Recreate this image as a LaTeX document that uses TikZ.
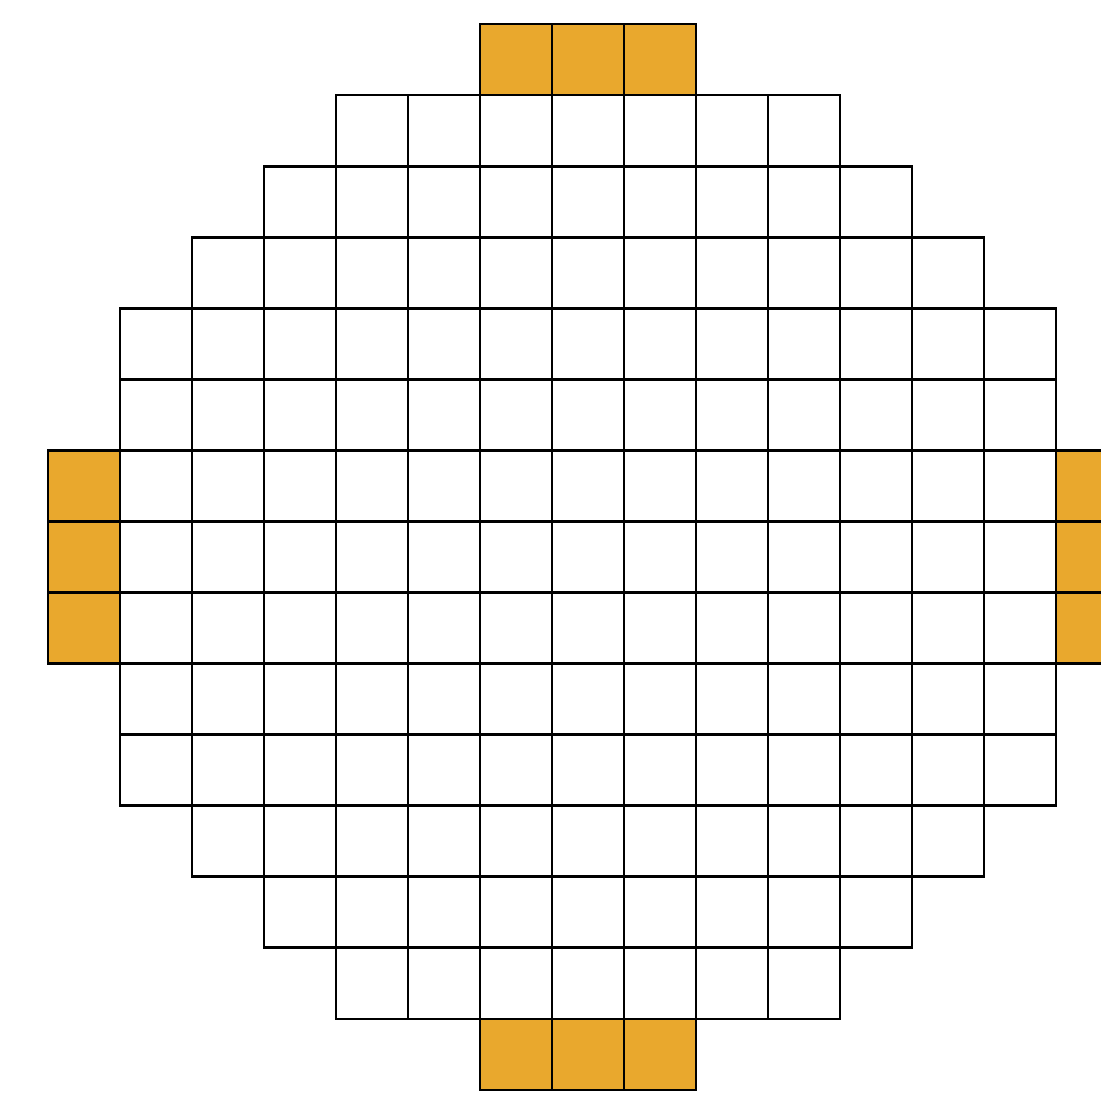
\documentclass[tikz,border=0pt]{standalone}
\usepackage{tikz}
\usepackage{xcolor}
\definecolor{tileorange}{RGB}{233,168,45}

\begin{document}
\begin{tikzpicture}[x=1cm,y=0.987cm,
  cell/.style={draw=black,line width=1.1pt},
  tile/.style={cell,fill=tileorange}]
\clip (-0.667,-0.113) rectangle (14.625,15.338);
\fill[white] (-0.667,-0.113) rectangle (14.625,15.338);
% white cells, row from top / first column / last column
\foreach \r/\a/\b in {1/4/10,2/3/11,3/2/12,4/1/13,5/1/13,6/1/13,7/1/13,
                      8/1/13,9/1/13,10/1/13,11/2/12,12/3/11,13/4/10}
  \foreach \c in {\a,...,\b}
    \draw[cell] (\c,14-\r) rectangle ++(1,1);
% orange cells on the four sides
\foreach \c in {6,7,8} {
  \draw[tile] (\c,14) rectangle ++(1,1);
  \draw[tile] (\c,0) rectangle ++(1,1);
}
\foreach \r in {6,7,8} {
  \draw[tile] (0,\r) rectangle ++(1,1);
  \draw[tile] (14,\r) rectangle ++(1,1);
}
\end{tikzpicture}
\end{document}
